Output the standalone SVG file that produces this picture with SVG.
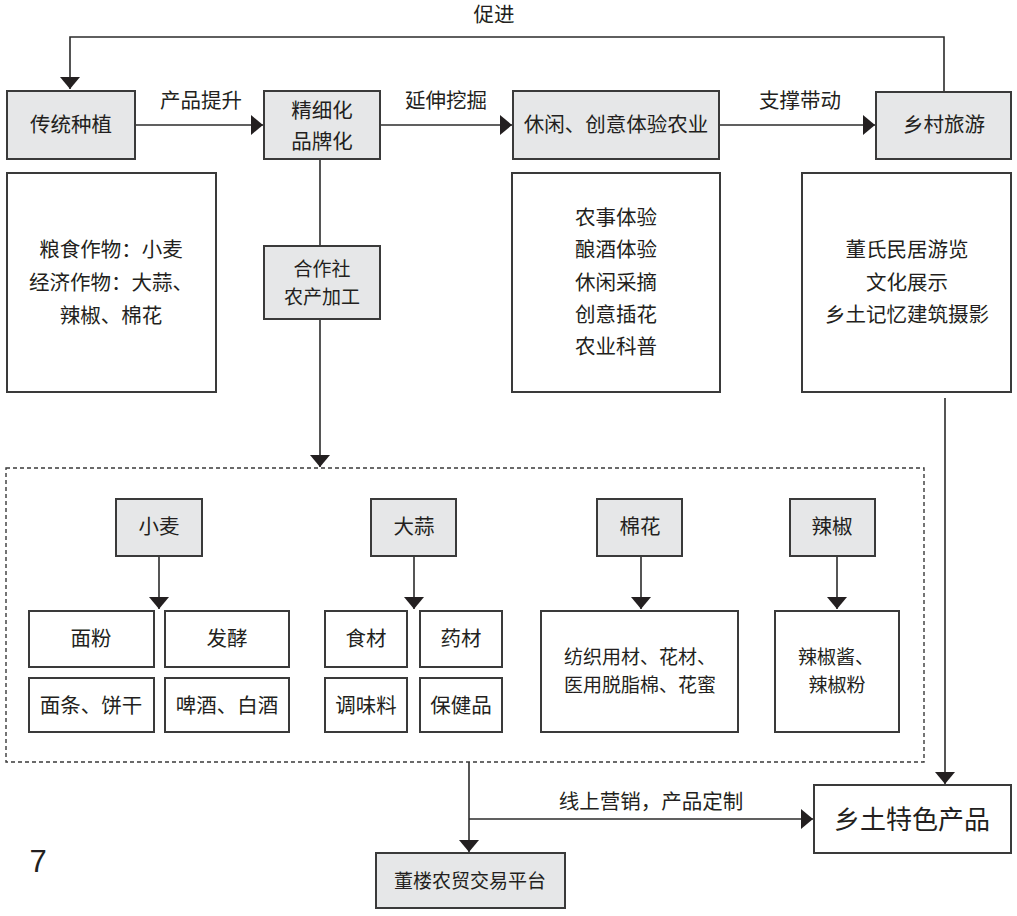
<svg xmlns="http://www.w3.org/2000/svg" width="1017" height="916" viewBox="0 0 1017 916">
<defs>
<style>
text{font-family:"Noto Sans CJK SC","Noto Sans",sans-serif;fill:#231f20;font-size:20.5px;text-anchor:middle}
.s{font-size:19px}
.g{fill:#e6e7e8;stroke:#3a3a3a;stroke-width:2}
.w{fill:#fff;stroke:#3a3a3a;stroke-width:2}
.c{fill:none;stroke:#2b2b2b;stroke-width:1.6}
.d{fill:none;stroke:#3a3a3a;stroke-width:1.4;stroke-dasharray:4 3}
</style>
<marker id="ah" markerUnits="userSpaceOnUse" markerWidth="13" markerHeight="20" refX="12" refY="10" orient="auto">
<path d="M0,0 L12,10 L0,20 z" fill="#231f20"/>
</marker>
</defs>
<rect width="1017" height="916" fill="#fff"/>

<g id="connectors">
<polyline class="c" points="944,91 944,37 70,37 70,89" marker-end="url(#ah)"/>
<text x="494" y="22">促进</text>
<line class="c" x1="135" y1="125" x2="263" y2="125" marker-end="url(#ah)"/>
<text x="201" y="108">产品提升</text>
<line class="c" x1="380" y1="125" x2="512" y2="125" marker-end="url(#ah)"/>
<text x="446" y="108">延伸挖掘</text>
<line class="c" x1="719" y1="125" x2="875" y2="125" marker-end="url(#ah)"/>
<text x="800" y="108">支撑带动</text>
<line class="c" x1="320" y1="159" x2="320" y2="246"/>
<line class="c" x1="320" y1="319" x2="320" y2="467" marker-end="url(#ah)"/>
<line class="c" x1="945" y1="398" x2="945" y2="784" marker-end="url(#ah)"/>
<line class="c" x1="159" y1="556" x2="159" y2="609" marker-end="url(#ah)"/>
<line class="c" x1="414" y1="556" x2="414" y2="609" marker-end="url(#ah)"/>
<line class="c" x1="641" y1="556" x2="641" y2="609" marker-end="url(#ah)"/>
<line class="c" x1="837" y1="556" x2="837" y2="609" marker-end="url(#ah)"/>
<line class="c" x1="469" y1="762" x2="469" y2="852" marker-end="url(#ah)"/>
<line class="c" x1="469" y1="819" x2="813" y2="819" marker-end="url(#ah)"/>
<text x="651" y="809">线上营销，产品定制</text>
</g>

<g id="n-chuantong"><rect class="g" x="7" y="91" width="128" height="68"/><text x="71" y="132">传统种植</text></g>
<g id="n-jingxi"><rect class="g" x="264" y="91" width="116" height="68"/><text x="322" y="118">精细化</text><text x="322" y="149">品牌化</text></g>
<g id="n-xiuxian"><rect class="g" x="513" y="91" width="206" height="68"/><text x="616" y="132">休闲、创意体验农业</text></g>
<g id="n-xiangcun"><rect class="g" x="876" y="92" width="135" height="67"/><text x="944" y="132">乡村旅游</text></g>

<g id="n-zuowu"><rect class="w" x="7" y="173" width="209" height="219"/><text x="111" y="257">粮食作物：小麦</text><text x="111" y="290">经济作物：大蒜、</text><text x="111" y="323">辣椒、棉花</text></g>
<g id="n-hezuo"><rect class="g" x="264" y="246" width="116" height="73"/><text class="s" x="322" y="276">合作社</text><text class="s" x="322" y="304">农产加工</text></g>
<g id="n-tiyan"><rect class="w" x="512" y="173" width="208" height="219"/><text x="616" y="225">农事体验</text><text x="616" y="257">酿酒体验</text><text x="616" y="290">休闲采摘</text><text x="616" y="322">创意插花</text><text x="616" y="354">农业科普</text></g>
<g id="n-lvyou"><rect class="w" x="802" y="173" width="209" height="219"/><text x="907" y="257">董氏民居游览</text><text x="907" y="290">文化展示</text><text x="907" y="322">乡土记忆建筑摄影</text></g>

<g id="n-products"><rect class="d" x="6" y="468" width="918" height="294"/></g>

<g id="n-xiaomai"><rect class="g" x="116" y="499" width="86" height="57"/><text x="159" y="534">小麦</text></g>
<g id="n-mianfen"><rect class="w" x="29" y="611" width="125" height="56"/><text x="91" y="646">面粉</text></g>
<g id="n-fajiao"><rect class="w" x="165" y="611" width="124" height="56"/><text x="227" y="646">发酵</text></g>
<g id="n-miantiao"><rect class="w" x="29" y="678" width="125" height="54"/><text x="91" y="713">面条、饼干</text></g>
<g id="n-pijiu"><rect class="w" x="165" y="678" width="124" height="54"/><text x="227" y="713">啤酒、白酒</text></g>

<g id="n-dasuan"><rect class="g" x="371" y="499" width="85" height="57"/><text x="414" y="534">大蒜</text></g>
<g id="n-shicai"><rect class="w" x="325" y="611" width="82" height="56"/><text x="366" y="646">食材</text></g>
<g id="n-yaocai"><rect class="w" x="420" y="611" width="82" height="56"/><text x="461" y="646">药材</text></g>
<g id="n-tiaowei"><rect class="w" x="325" y="678" width="82" height="54"/><text x="366" y="713">调味料</text></g>
<g id="n-baojian"><rect class="w" x="420" y="678" width="82" height="54"/><text x="461" y="713">保健品</text></g>

<g id="n-mianhua"><rect class="g" x="597" y="499" width="85" height="57"/><text x="640" y="534">棉花</text></g>
<g id="n-fangzhi"><rect class="w" x="541" y="611" width="197" height="121"/><text class="s" x="640" y="664">纺织用材、花材、</text><text class="s" x="640" y="692">医用脱脂棉、花蜜</text></g>

<g id="n-lajiao"><rect class="g" x="790" y="499" width="85" height="57"/><text x="832" y="534">辣椒</text></g>
<g id="n-lajiaojiang"><rect class="w" x="775" y="611" width="124" height="121"/><text class="s" x="836" y="664">辣椒酱、</text><text class="s" x="837" y="692">辣椒粉</text></g>

<g id="n-techan"><rect class="w" x="814" y="785" width="197" height="68"/><text x="912" y="829" style="font-size:26px">乡土特色产品</text></g>
<g id="n-pingtai"><rect class="g" x="376" y="853" width="189" height="55"/><text x="470" y="888" style="font-size:19px">董楼农贸交易平台</text></g>

<text x="38" y="872" style="font-family:'Liberation Sans',sans-serif;font-size:31px;text-anchor:middle">7</text>
</svg>
